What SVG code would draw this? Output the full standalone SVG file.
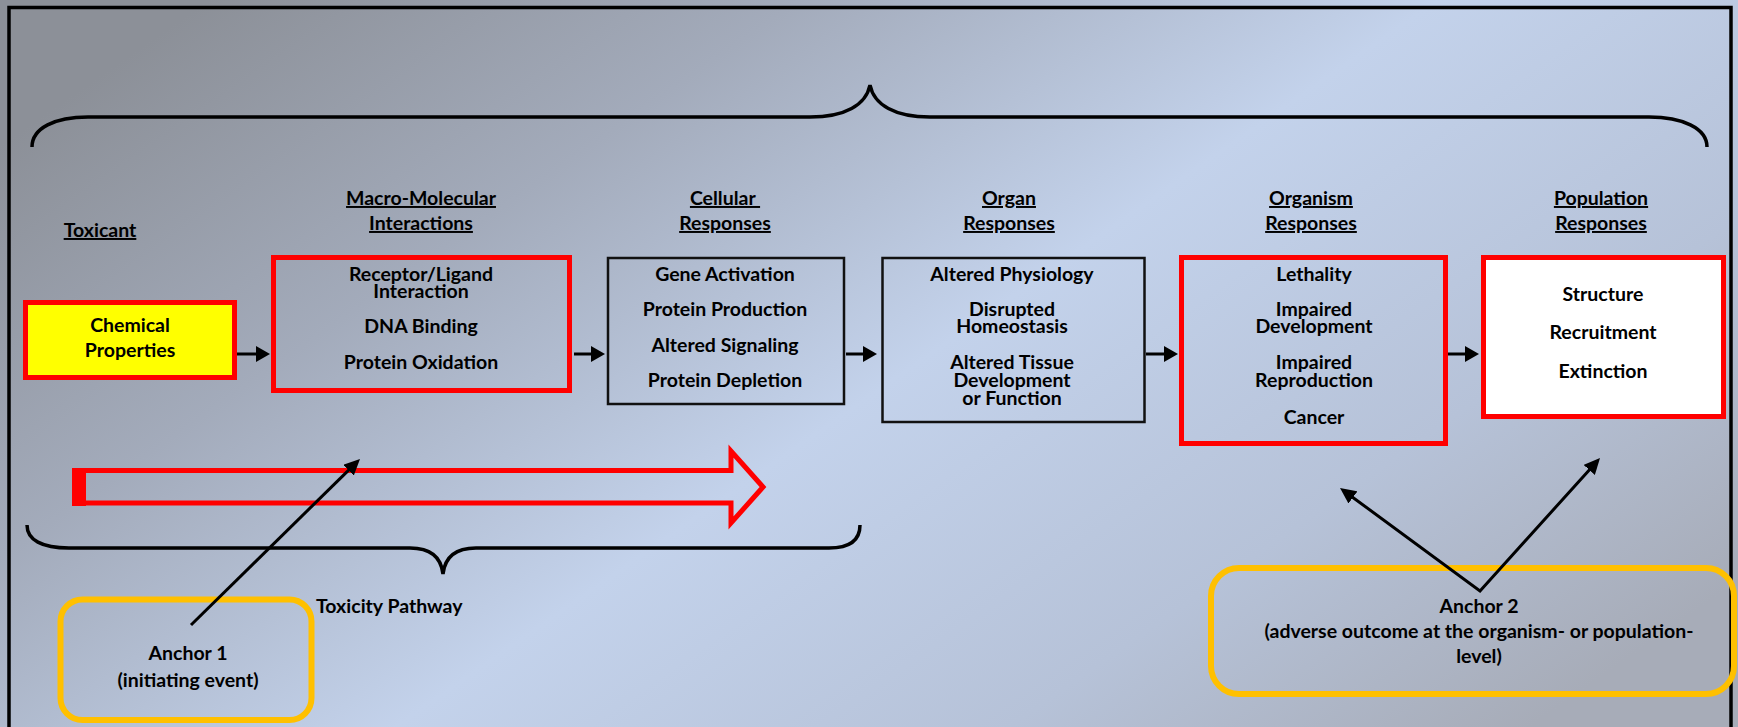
<svg xmlns="http://www.w3.org/2000/svg" width="1738" height="727" viewBox="0 0 1738 727">
<defs>
<linearGradient id="bg" x1="0" y1="0.2" x2="1" y2="0.8">
<stop offset="0" stop-color="#8c9098"/>
<stop offset="0.25" stop-color="#a3abbb"/>
<stop offset="0.52" stop-color="#c3d2eb"/>
<stop offset="0.78" stop-color="#b6c2d8"/>
<stop offset="1" stop-color="#a7acb8"/>
</linearGradient>
<marker id="ah" viewBox="0 0 14 16" refX="2" refY="8" markerWidth="14" markerHeight="16" markerUnits="userSpaceOnUse" orient="auto-start-reverse">
<path d="M0,0 L14,8 L0,16 z" fill="#000"/>
</marker>
<marker id="ah2" viewBox="0 0 16 15" refX="3" refY="7.5" markerWidth="16" markerHeight="15" markerUnits="userSpaceOnUse" orient="auto-start-reverse">
<path d="M0,0 L16,7.5 L0,15 z" fill="#000"/>
</marker>
</defs>
<style>
text{font-family:Lato,"Liberation Sans",sans-serif;font-weight:bold;font-size:19.5px;fill:#000;text-anchor:middle}
.hd{text-decoration:underline}
.st{text-anchor:start}
.red{fill:none;stroke:#ff0000;stroke-width:5}
.blk{fill:none;stroke:#111;stroke-width:2.5}
.anc{fill:none;stroke:#ffc000;stroke-width:6}
.brace{fill:none;stroke:#000;stroke-width:3.5}
.sa{stroke:#000;stroke-width:3;fill:none}
</style>
<rect x="0" y="0" width="1738" height="727" fill="url(#bg)"/>
<rect x="9" y="7.5" width="1722" height="730" fill="none" stroke="#000" stroke-width="3.5"/>

<g id="braces">
<path class="brace" d="M32,147 C32,128 55,117 88,117 L810,117 C845,117 866,105 870,85 C874,105 895,117 930,117 L1649,117 C1682,117 1707,128 1707,147"/>
<path class="brace" d="M27,525 C27,540 42,548 69,548 L410,548 C430,548 441,556 443,574 C445,556 456,548 476,548 L829,548 C850,548 860,540 860,525"/>
</g>

<g id="headers">
<text class="hd" x="100" y="237">Toxicant</text>
<text class="hd" x="421" y="205">Macro-Molecular</text>
<text class="hd" x="421" y="230">Interactions</text>
<text class="hd" x="725" y="205" xml:space="preserve">Cellular </text>
<text class="hd" x="725" y="230">Responses</text>
<text class="hd" x="1009" y="205">Organ</text>
<text class="hd" x="1009" y="230">Responses</text>
<text class="hd" x="1311" y="205">Organism</text>
<text class="hd" x="1311" y="230">Responses</text>
<text class="hd" x="1601" y="205">Population</text>
<text class="hd" x="1601" y="230">Responses</text>
</g>

<g id="toxicity-arrow">
<polygon points="80,470.5 731,470.5 731,451 763,487 731,523 731,503 80,503" fill="none" stroke="#ff0000" stroke-width="5"/>
<rect x="72" y="468" width="14" height="38" fill="#ff0000"/>
</g>

<g id="chemical">
<rect x="25.5" y="302.5" width="209" height="75" fill="#ffff00" stroke="#ff0000" stroke-width="5"/>
<text x="130" y="332">Chemical</text>
<text x="130" y="357">Properties</text>
</g>

<g id="macro">
<rect class="red" x="273.5" y="257.5" width="296" height="133"/>
<text x="421" y="281">Receptor/Ligand</text>
<text x="421" y="298">Interaction</text>
<text x="421" y="333">DNA Binding</text>
<text x="421" y="369">Protein Oxidation</text>
</g>

<g id="cellular">
<rect class="blk" x="608" y="258" width="236" height="146"/>
<text x="725" y="281">Gene Activation</text>
<text x="725" y="316">Protein Production</text>
<text x="725" y="352">Altered Signaling</text>
<text x="725" y="387">Protein Depletion</text>
</g>

<g id="organ">
<rect class="blk" x="882.5" y="258" width="262" height="164"/>
<text x="1012" y="281">Altered Physiology</text>
<text x="1012" y="316">Disrupted</text>
<text x="1012" y="333">Homeostasis</text>
<text x="1012" y="369">Altered Tissue</text>
<text x="1012" y="387">Development</text>
<text x="1012" y="405">or Function</text>
</g>

<g id="organism">
<rect class="red" x="1181.5" y="257.5" width="264" height="186"/>
<text x="1314" y="281">Lethality</text>
<text x="1314" y="316">Impaired</text>
<text x="1314" y="333">Development</text>
<text x="1314" y="369">Impaired</text>
<text x="1314" y="387">Reproduction</text>
<text x="1314" y="424">Cancer</text>
</g>

<g id="population">
<rect x="1483.5" y="257.5" width="240" height="159" fill="#ffffff" stroke="#ff0000" stroke-width="5"/>
<text x="1603" y="301">Structure</text>
<text x="1603" y="339">Recruitment</text>
<text x="1603" y="378">Extinction</text>
</g>

<g id="anchor1">
<rect class="anc" x="60.5" y="599.5" width="251" height="120.5" rx="22"/>
<text x="188" y="660">Anchor 1</text>
<text x="188" y="687">(initiating event)</text>
</g>

<g id="toxicity-label">
<text class="st" x="316" y="613">Toxicity Pathway</text>
</g>

<g id="anchor2">
<rect class="anc" x="1211" y="568" width="523" height="126" rx="28"/>
<text x="1479" y="613">Anchor 2</text>
<text x="1479" y="638">(adverse outcome at the organism- or population-</text>
<text x="1479" y="663">level)</text>
</g>

<g id="connectors">
<line class="sa" x1="237" y1="354" x2="258" y2="354" marker-end="url(#ah)"/>
<line class="sa" x1="574" y1="354" x2="593" y2="354" marker-end="url(#ah)"/>
<line class="sa" x1="846" y1="354" x2="865" y2="354" marker-end="url(#ah)"/>
<line class="sa" x1="1146" y1="354" x2="1166" y2="354" marker-end="url(#ah)"/>
<line class="sa" x1="1448" y1="354" x2="1467" y2="354" marker-end="url(#ah)"/>
<line class="sa" x1="191" y1="625" x2="350.7" y2="468.1" marker-end="url(#ah2)"/>
<path class="sa" d="M1350.5,495.7 L1480,591 L1591.3,467.7" marker-start="url(#ah2)" marker-end="url(#ah2)"/>
</g>
</svg>
